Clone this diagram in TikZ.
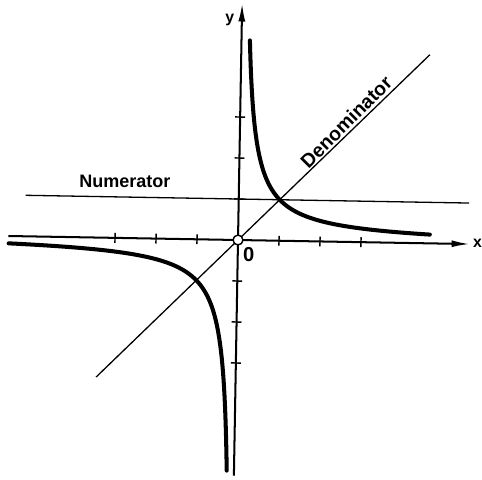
\documentclass[tikz,border=0pt]{standalone}
\usepackage{fontspec}
\setsansfont{Liberation Sans}
\usetikzlibrary{arrows.meta}
\tikzset{
  axis/.style={line width=1.4pt, -{Latex[length=4.5mm, width=1.7mm]}},
  guide/.style={line width=0.9pt},
  branch/.style={line width=2.8pt, line cap=round},
  tickmark/.style={line width=1pt},
  lbl/.style={font=\fontsize{12.5}{14}\selectfont\sffamily\bfseries},
  axlbl/.style={font=\fontsize{11}{13}\selectfont\sffamily\bfseries, inner sep=0pt},
  origin/.style={circle, draw, fill=white, line width=1pt, inner sep=0pt, minimum size=2.4mm},
}

\begin{document}
\begin{tikzpicture}
  \useasboundingbox (-5.805,-5.829) rectangle (5.951,5.854);

  \begin{scope}[rotate=-1]
    \coordinate (xl) at (-5.6,0);
    \coordinate (xr) at (5.66,0);
    \coordinate (yb) at (0,-5.75);
    \coordinate (yt) at (0,5.78);
    \draw[axis] (xl) -- (xr);
    \draw[axis] (yb) -- (yt);

    % ticks
    \foreach \k in {-3,-2,-1,1,2,3} {
      \draw[tickmark] (\k,-0.12) -- (\k,0.12);
      \draw[tickmark] (-0.12,\k) -- (0.12,\k);
    }

    % numerator y = 1 and denominator y = x
    \coordinate (nl) at (-5.2,1);
    \coordinate (nr) at (5.62,1);
    \draw[guide] (nl) -- (nr);
    \coordinate (dl) at (-3.4,-3.4);
    \coordinate (dr) at (4.6,4.6);
    \draw[guide] (dl) -- node[lbl, font=\fontsize{13.5}{15}\selectfont\sffamily\bfseries, sloped, above, pos=0.77, inner sep=1.5pt] (den) {Denominator} (dr);

    % quotient 1/x
    \draw[branch] plot[domain={ln(0.205)}:{ln(4.68)}, samples=90, smooth] ({exp(\x)},{exp(-\x)});
    \draw[branch] plot[domain={ln(0.177)}:{ln(5.6)}, samples=90, smooth] ({-exp(\x)},{-exp(-\x)});

    \node[origin] (o) at (0,0) {};
  \end{scope}

  \node[lbl] (num) at (-2.76,1.44) {Numerator};
  \node[axlbl] (xlab) at (5.84,-0.08) {x};
  \node[axlbl] (ylab) at (-0.2,5.37) {y};
  \node[axlbl, font=\fontsize{14}{16}\selectfont\sffamily\bfseries] (zero) at (0.26,-0.36) {0};
\end{tikzpicture}
\end{document}
